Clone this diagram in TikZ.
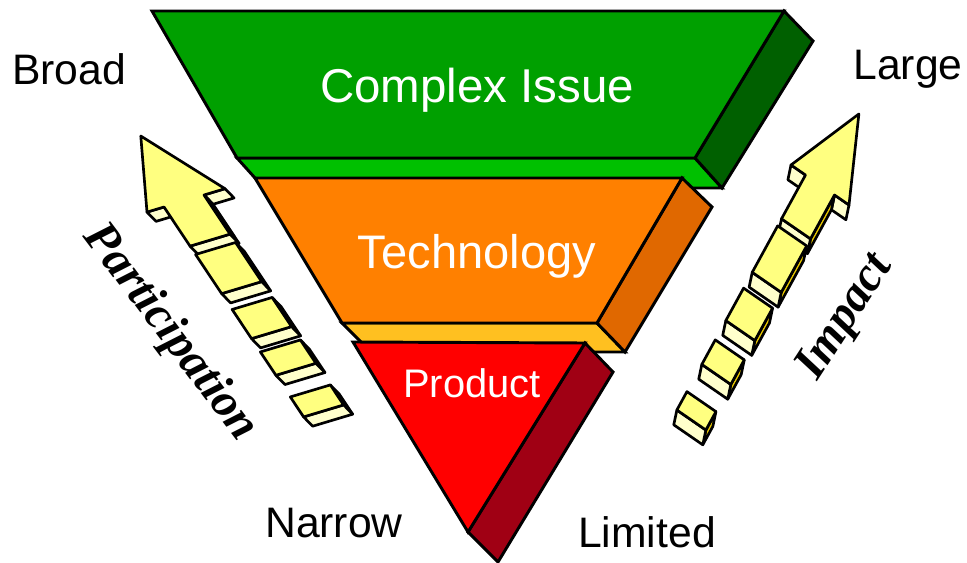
\documentclass[tikz,border=0pt]{standalone}
\usepackage{fontspec}
\setmainfont{Liberation Sans}
\newfontfamily\tnr{Liberation Serif}
\definecolor{gfront}{HTML}{00A000}
\definecolor{gside}{HTML}{006000}
\definecolor{gbot}{HTML}{00C000}
\definecolor{ofront}{HTML}{FF8000}
\definecolor{oside}{HTML}{E06800}
\definecolor{obot}{HTML}{FFC020}
\definecolor{rfront}{HTML}{FF0000}
\definecolor{rside}{HTML}{A00014}
\definecolor{yfr}{HTML}{FFFF80}
\definecolor{ylt}{HTML}{FFFFCC}
\definecolor{ygd}{HTML}{E8C800}
\tikzset{
  face/.style={draw=black, line width=2.2pt, line join=miter},
  yfront/.style={fill=yfr, draw=black, line width=2pt, line join=round},
  ylight/.style={fill=ylt, draw=black, line width=2pt, line join=round},
  ygold/.style={fill=ygd, draw=black, line width=2pt, line join=round},
  inlbl/.style={text=white, inner sep=0pt},
  outlbl/.style={text=black, inner sep=0pt, font=\fontsize{32}{36}\selectfont},
  rotlbl/.style={text=black, inner sep=0pt, font=\tnr\bfseries\itshape\fontsize{36}{40}\selectfont}
}
\newcommand{\arrowseg}[2]{%
  \filldraw[ygold] (#1,1) -- (#2,1) -- ({#2+\ArDs},{1+\ArDt}) -- ({#1+\ArDs},{1+\ArDt}) -- cycle;
  \filldraw[ylight] (#2,-1) -- (#2,1) -- ({#2+\ArDs},{1+\ArDt}) -- ({#2+\ArDs},{-1+\ArDt}) -- cycle;
  \filldraw[yfront] (#1,-1) -- (#2,-1) -- (#2,1) -- (#1,1) -- cycle;
}
\newcommand{\arrowhd}[4]{%
  \filldraw[ylight] (0,#3) -- (0,-1) -- (\ArDs,{-1+\ArDt}) -- (\ArDs,{#3+\ArDt}) -- cycle;
  \filldraw[ylight] (0,1) -- (0,#4) -- (\ArDs,{#4+\ArDt}) -- (\ArDs,{1+\ArDt}) -- cycle;
  \filldraw[ygold] (0,1) -- (#2,1) -- ({#2+\ArDs},{1+\ArDt}) -- (\ArDs,{1+\ArDt}) -- cycle;
  \filldraw[ylight] (#2,-1) -- (#2,1) -- ({#2+\ArDs},{1+\ArDt}) -- ({#2+\ArDs},{-1+\ArDt}) -- cycle;
  \filldraw[yfront] (#1,0) -- (0,#3) -- (0,-1) -- (#2,-1) -- (#2,1) -- (0,1) -- (0,#4) -- cycle;
}
\begin{document}
\begin{tikzpicture}[x=0.75pt,y=-0.75pt]
\useasboundingbox (0,0) rectangle (967,563);
% green layer
\filldraw[face, fill=gbot] (237,158) -- (695,158) -- (722,188) -- (264,188) -- cycle;
\filldraw[face, fill=gside] (784,11) -- (813,41) -- (722,188) -- (695,158) -- cycle;
\filldraw[face, fill=gfront] (152,11) -- (784,11) -- (695,158) -- (237,158) -- cycle;
% orange layer
\filldraw[face, fill=obot] (342,323) -- (597,323) -- (625,352) -- (371,352) -- cycle;
\filldraw[face, fill=oside] (682,178) -- (712,207) -- (625,352) -- (597,323) -- cycle;
\filldraw[face, fill=ofront] (255,178) -- (682,178) -- (597,323) -- (342,323) -- cycle;
% red layer
\filldraw[face, fill=rside] (585,343) -- (613,372) -- (498,562) -- (468,532) -- cycle;
\filldraw[face, fill=rfront] (353,342) -- (585,343) -- (468,532) -- cycle;
% layer texts
\node[inlbl, anchor=base, font=\fontsize{35.6}{40}\selectfont] (cissue) at (477,103) {Complex Issue};
\node[inlbl, anchor=base, font=\fontsize{35.3}{40}\selectfont] (tech) at (477,268) {Technology};
\node[inlbl, anchor=base, font=\fontsize{29.9}{34}\selectfont] (prod) at (472,397) {Product};
% outer labels
\node[outlbl, anchor=base] (broad) at (69,85) {Broad};
\node[outlbl, anchor=base] (large) at (908,80) {Large};
\node[outlbl, anchor=base] (narrow) at (334,537) {Narrow};
\node[outlbl, anchor=base] (limited) at (647,547) {Limited};
% left arrow (Participation)
\begin{scope}[shift={(184,201)}, x={(0.4155pt,-0.62475pt)}, y={(15pt,4.5pt)}]
  \def\ArDs{12}\def\ArDt{0.12}
  \arrowhd{-78}{47}{-1.85}{2.05}
  \arrowseg{57}{104}
  \arrowseg{123}{158}
  \arrowseg{174}{202}
  \arrowseg{228}{252}
\end{scope}
% right arrow (Impact)
\begin{scope}[shift={(820,185)}, x={(-0.36pt,-0.65775pt)}, y={(10.875pt,-7.5pt)}]
  \def\ArDs{14}\def\ArDt{0.25}
  \arrowhd{-81}{50}{-2}{2}
  \arrowseg{58}{111}
  \arrowseg{129}{166}
  \arrowseg{188}{216}
  \arrowseg{247}{268}
\end{scope}
\node[rotlbl, rotate=-53] (part) at (170,333) {Participation};
\node[rotlbl, rotate=57] (impact) at (846,318) {Impact};
\end{tikzpicture}
\end{document}
